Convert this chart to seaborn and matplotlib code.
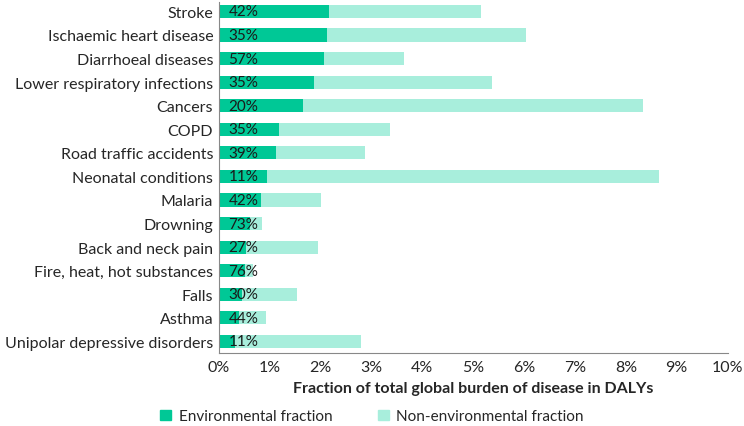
import matplotlib
matplotlib.use("Agg")
import matplotlib.pyplot as plt
import matplotlib.patches as mpatches
from matplotlib.ticker import FuncFormatter
import seaborn as sns
import pandas as pd

causes = ["Stroke", "Ischaemic heart disease", "Diarrhoeal diseases",
          "Lower respiratory infections", "Cancers", "COPD",
          "Road traffic accidents", "Neonatal conditions", "Malaria",
          "Drowning", "Back and neck pain", "Fire, heat, hot substances",
          "Falls", "Asthma", "Unipolar depressive disorders"]
# % of total global DALYs
env_part = [2.16, 2.12, 2.07, 1.88, 1.66, 1.18, 1.12, 0.95, 0.84,
            0.62, 0.53, 0.52, 0.46, 0.40, 0.31]
total = [5.15, 6.04, 3.64, 5.36, 8.33, 3.37, 2.87, 8.66, 2.01,
         0.85, 1.96, 0.68, 1.53, 0.92, 2.79]
share_labels = ["42%", "35%", "57%", "35%", "20%", "35%", "39%", "11%",
                "42%", "73%", "27%", "76%", "30%", "44%", "11%"]

df = pd.DataFrame({"Cause": causes, "Env": env_part, "Total": total})

dark = "#00C896"
light = "#A8EEDC"

sns.set_style("white")
plt.rcParams["font.family"] = ["Lato", "DejaVu Sans"]

fig, ax = plt.subplots(figsize=(7.44, 4.27), dpi=100)
sns.barplot(data=df, y="Cause", x="Total", color=light, width=0.56,
            saturation=1, edgecolor="none", ax=ax)
sns.barplot(data=df, y="Cause", x="Env", color=dark, width=0.56,
            saturation=1, edgecolor="none", ax=ax)

for i, lab in enumerate(share_labels):
    ax.annotate(lab, xy=(0, i), xytext=(7, 0), textcoords="offset points",
                ha="left", va="center", fontsize=11, color="#1a1a1a")

ax.set_xlim(0, 10)
ax.set_xticks(range(0, 11))
ax.xaxis.set_major_formatter(FuncFormatter(lambda v, p: f"{int(v)}%"))
ax.set_xlabel("Fraction of total global burden of disease in DALYs",
              fontsize=11.5, fontweight="bold", labelpad=5)
ax.set_ylabel("")
ax.tick_params(axis="x", direction="in", length=4, color="#888888",
               labelsize=11.5, pad=5)
ax.tick_params(axis="y", length=0, labelsize=11.5, pad=4)
for s in ["top", "right"]:
    ax.spines[s].set_visible(False)
for s in ["left", "bottom"]:
    ax.spines[s].set_color("#888888")
ax.set_ylim(len(causes) - 0.51, -0.4)

handles = [mpatches.Patch(color=dark, label="Environmental fraction"),
           mpatches.Patch(color=light, label="Non-environmental fraction")]
fig.legend(handles=handles, loc="lower center", bbox_to_anchor=(0.5, -0.026),
           ncol=2, frameon=False, fontsize=11, handlelength=0.7,
           handleheight=0.7, columnspacing=3, handletextpad=0.5)

fig.subplots_adjust(left=0.294, right=0.978, top=0.993, bottom=0.171)
fig.savefig("out.png", dpi=100)
